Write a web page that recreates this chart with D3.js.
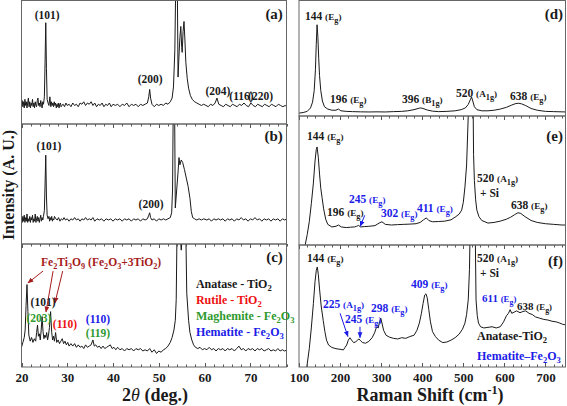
<!DOCTYPE html>
<html><head><meta charset="utf-8">
<script src="https://cdn.jsdelivr.net/npm/d3@7"></script>
<style>html,body{margin:0;padding:0;background:#fff}svg{display:block}svg text{font-family:"Liberation Serif","Times New Roman","DejaVu Serif",serif;font-weight:bold}</style>
</head><body>
<script>
// ---------------- DATA ----------------
const xrdTicks = [20, 30, 40, 50, 60, 70];
const ramanTicks = [100, 200, 300, 400, 500, 600, 700];

// XRD (a) [2theta, intensity]
const xrdA = [[20.0,15],[20.15,19],[20.3,14],[20.45,18],[20.6,13],[20.75,20],[20.9,15],[21.05,18],[21.2,13],[21.35,17],[21.5,21],[21.65,14],[21.8,18],[21.95,13],[22.1,17],[22.25,15],[22.4,20],[22.55,14],[22.7,17],[22.85,13],[23.0,18],[23.15,15],[23.3,14],[23.45,19],[23.6,21],[23.75,15],[23.9,17],[24.05,14],[24.2,19],[24.35,16],[24.5,13],[24.65,18],[24.8,16],[25.0,22],[25.15,50],[25.3,82],[25.45,45],[25.6,20],[25.8,17],[26.0,15],[26.2,22],[26.4,14],[26.55,18],[26.7,15],[26.85,17],[27.0,14],[27.15,18],[27.3,15],[27.45,17],[27.6,13],[27.75,16],[27.9,14],[28.05,17],[28.2,13],[28.35,16],[28.5,17],[28.65,14],[28.8,15],[29.1,16],[29.4,14],[29.7,17],[30.0,15],[30.4,16],[30.8,14],[31.2,17],[31.6,15],[32.0,16],[32.4,14],[32.8,17],[33.2,16],[33.6,18],[34.0,15],[34.4,17],[34.8,16],[35.2,18],[35.6,15],[36.0,17],[36.4,14],[36.8,16],[37.2,15],[37.6,17],[38.0,14],[38.4,16],[38.8,15],[39.2,17],[39.6,14],[40.0,16],[40.5,15],[41.0,16],[41.5,14],[42.0,16],[42.5,15],[43.0,17],[43.5,14],[44.0,16],[44.5,15],[45.0,16],[45.5,14],[46.0,16],[46.5,15],[47.0,16],[47.5,17],[47.8,22],[48.0,28],[48.2,21],[48.5,16],[49.0,14],[49.5,16],[50.0,15],[50.5,16],[51.0,15],[51.5,17],[52.0,16],[52.5,18],[52.9,21],[53.2,30],[53.5,60],[53.75,130],[54.0,130],[54.2,38],[54.4,55],[54.6,70],[54.8,79],[55.0,62],[55.1,58],[55.3,75],[55.5,83],[55.7,68],[55.9,50],[56.2,37],[56.5,29],[56.9,23],[57.3,20],[57.8,18],[58.3,17],[58.8,16],[59.3,15],[59.8,16],[60.3,15],[60.8,14],[61.3,16],[61.8,15],[62.3,17],[62.7,21],[63.1,16],[63.6,15],[64.1,14],[64.6,16],[65.1,15],[65.6,14],[66.1,16],[66.6,15],[67.1,14],[67.6,16],[68.1,15],[68.6,17],[69.1,15],[69.6,14],[70.1,17],[70.6,15],[71.1,14],[71.6,16],[72.1,15],[72.6,14],[73.1,16],[73.6,15],[74.1,14],[74.6,16],[75.1,15],[75.6,14],[76.1,16],[76.6,15],[77.1,14],[77.6,15],[78.0,14]];

// XRD (b)
const xrdB = [[20.0,22],[20.15,18],[20.3,23],[20.45,19],[20.6,24],[20.75,18],[20.9,22],[21.05,19],[21.2,25],[21.35,18],[21.5,21],[21.65,19],[21.8,23],[21.95,18],[22.1,22],[22.25,20],[22.4,24],[22.55,18],[22.7,21],[22.85,19],[23.0,25],[23.15,18],[23.3,21],[23.45,23],[23.6,19],[23.75,22],[23.9,18],[24.05,21],[24.2,24],[24.35,19],[24.5,22],[24.65,20],[24.8,23],[25.0,28],[25.15,50],[25.3,74],[25.45,40],[25.6,24],[25.8,21],[26.0,23],[26.15,19],[26.3,22],[26.45,20],[26.6,23],[26.75,19],[26.9,21],[27.05,20],[27.2,23],[27.5,21],[27.8,20],[28.1,22],[28.4,19],[28.7,21],[29.0,20],[29.3,22],[29.6,20],[30.0,21],[30.4,19],[30.8,21],[31.2,20],[31.6,22],[32.0,20],[32.4,21],[32.8,19],[33.2,21],[33.6,20],[34.0,22],[34.4,20],[34.8,21],[35.2,20],[35.6,22],[36.0,19],[36.5,21],[37.0,20],[37.5,21],[38.0,19],[38.5,21],[39.0,20],[39.5,21],[40.0,19],[40.5,21],[41.0,20],[41.5,21],[42.0,19],[42.5,21],[43.0,20],[43.5,21],[44.0,19],[44.5,21],[45.0,20],[45.5,21],[46.0,19],[46.5,21],[47.0,20],[47.5,21],[47.8,24],[48.0,26],[48.2,22],[48.5,20],[49.0,21],[49.5,19],[50.0,21],[50.5,20],[51.0,21],[51.5,20],[52.0,21],[52.5,22],[52.8,26],[53.0,45],[53.2,140],[53.4,140],[53.6,30],[53.9,45],[54.2,60],[54.4,72],[54.6,66],[54.9,70],[55.2,68],[55.6,62],[56.0,55],[56.4,48],[56.8,38],[57.1,27],[57.4,22],[57.8,21],[58.3,20],[58.8,21],[59.3,20],[59.8,21],[60.5,20],[61.0,21],[61.5,19],[62.0,21],[62.5,20],[63.0,21],[63.5,20],[64.0,21],[64.5,19],[65.0,21],[65.5,20],[66.0,21],[66.5,19],[67.0,21],[67.5,20],[68.0,22],[68.5,20],[69.0,21],[69.5,19],[70.0,21],[70.5,20],[71.0,22],[71.5,20],[72.0,21],[72.5,19],[73.0,21],[73.5,20],[74.0,21],[74.5,19],[75.0,21],[75.5,20],[76.0,21],[76.5,19],[77.0,21],[77.5,20],[78.0,21]];

// XRD (c)
const xrdC = [[20.0,16],[20.3,20],[20.6,24],[20.8,30],[21.0,50],[21.2,67],[21.4,45],[21.6,26],[21.9,21],[22.2,24],[22.5,20],[22.8,23],[23.1,21],[23.3,28],[23.5,34],[23.7,25],[23.9,27],[24.1,22],[24.3,30],[24.5,41],[24.7,29],[24.9,23],[25.1,26],[25.3,24],[25.5,28],[25.7,22],[25.9,26],[26.1,32],[26.35,45],[26.6,28],[26.8,22],[27.0,25],[27.2,21],[27.45,28],[27.7,20],[28.0,22],[28.3,19],[28.6,21],[28.9,23],[29.2,19],[29.5,21],[29.8,18],[30.1,20],[30.4,17],[30.8,19],[31.2,17],[31.6,19],[32.0,16],[32.4,18],[32.8,16],[33.2,17],[33.6,15],[34.0,18],[34.4,16],[34.8,17],[35.2,18],[35.6,22],[35.9,17],[36.2,18],[36.6,16],[37.0,17],[37.4,15],[37.8,17],[38.2,15],[38.6,16],[39.0,17],[39.4,18],[39.8,15],[40.2,16],[40.6,14],[41.0,16],[41.5,14],[42.0,15],[42.5,13],[43.0,15],[43.5,14],[44.0,15],[44.5,13],[45.0,15],[45.5,14],[46.0,15],[46.5,13],[47.0,14],[47.5,13],[48.0,15],[48.5,12],[49.0,14],[49.5,11],[50.0,13],[50.5,12],[51.0,14],[51.5,15],[52.0,17],[52.5,20],[52.9,24],[53.3,30],[53.6,38],[53.8,55],[54.0,120],[54.3,130],[54.6,110],[54.9,95],[55.2,110],[55.6,130],[55.9,110],[56.1,60],[56.5,38],[56.8,28],[57.2,22],[57.6,18],[58.0,16],[58.5,15],[59.0,16],[59.5,14],[60.0,15],[60.5,14],[61.0,16],[61.5,14],[62.0,15],[62.5,13],[63.0,15],[63.5,14],[64.0,15],[64.5,13],[65.0,15],[65.5,14],[66.0,15],[66.5,13],[67.0,15],[67.5,17],[68.0,14],[68.5,15],[69.0,13],[69.5,15],[70.0,14],[70.5,15],[71.0,13],[71.5,15],[72.0,14],[72.5,15],[73.0,13],[73.5,14],[74.0,15],[74.5,13],[75.0,14],[75.5,13],[76.0,15],[76.5,13],[77.0,14],[77.5,13],[78.0,14]];

// Raman (d) [shift, intensity]
const ramanD = [[100,2.5],[110,3],[120,4],[128,7],[133,12],[137,22],[140,40],[142,62],[144,79],[146,68],[148,50],[150,35],[153,22],[157,13],[162,8],[170,6],[180,5],[190,5],[196,6],[202,4.5],[215,4],[230,3.8],[250,3.6],[270,3.5],[290,3.6],[310,3.5],[330,3.8],[350,4],[365,4.5],[380,5.5],[390,6.5],[396,7],[402,6.5],[412,5.2],[425,4.2],[440,3.8],[460,4],[480,4.5],[495,5.5],[505,7],[512,10],[517,14],[520,16.5],[523,13],[527,8],[533,5.5],[545,4.5],[560,4.5],[575,5],[590,6],[605,7.5],[618,9.5],[628,10.8],[635,11],[642,10.5],[652,9],[665,6.5],[680,5],[700,4],[720,3.8],[750,3.5]];

// Raman (e)
const ramanE = [[115,0],[120,8],[125,18],[130,32],[135,48],[139,65],[142,74],[144,76],[147,68],[150,55],[153,44],[156,37],[160,28],[165,20],[170,16],[180,14],[190,14.5],[196,15.5],[203,14],[215,13.5],[225,13.8],[235,14],[240,14.5],[245,15.2],[250,14],[260,14.3],[270,14.5],[285,15],[295,17],[302,18],[310,16],[325,15.5],[340,15.8],[355,16],[370,16.2],[385,16.5],[395,17.5],[403,19.5],[410,21],[416,19],[425,18],[440,18.2],[455,18.5],[470,19.5],[482,22],[490,24],[496,27],[500,33],[504,45],[508,62],[512,100],[515,140],[523,140],[525,70],[527,50],[530,35],[533,27],[538,22],[545,19],[560,17],[575,17.5],[590,18.5],[605,20],[615,21.5],[625,23.5],[633,25],[640,24.5],[650,22],[665,19],[680,17.5],[700,16.5],[720,16],[740,15.5],[750,15.5]];

// Raman (f)
const ramanF = [[119,0],[125,15],[130,32],[135,52],[139,70],[142,79],[144.5,82],[147,76],[150,64],[154,50],[159,38],[163,29],[167,22],[172,18],[180,16],[190,15],[200,14.5],[208,14],[212,16],[216,18],[220,22],[224,24],[228,22],[233,20],[238,20.5],[242,22],[246,23],[250,21.5],[255,20],[262,19.5],[270,21],[278,24],[284,28],[289,33],[293,32],[296,37],[299,40],[302,36],[306,30],[312,26],[320,24.5],[330,23.5],[340,23],[350,24],[360,23.5],[370,25],[380,26],[387,30],[393,36],[398,44],[402,52],[406,59],[409,60],[412,57],[416,47],[420,37],[425,29],[432,25],[440,22],[450,20],[460,20.5],[470,22],[480,24],[490,27],[498,31],[504,36],[508,43],[512,55],[515,80],[518,140],[528,140],[531,55],[534,42],[537,36],[542,33],[550,32],[560,32.5],[570,33],[580,32],[590,33],[598,37],[605,42],[610,44],[614,47],[618,44],[624,45],[630,46],[638,44.5],[645,45.5],[652,46],[660,44],[668,43],[676,41],[686,40],[696,39],[706,38.5],[716,37.5],[726,37],[735,36],[742,35],[750,34.5]];

// ---------------- LAYOUT ----------------
const W = 567, H = 406;
const BLUE = "#1c1ce8", GREEN = "#2f9a2f", RED = "#ee1111", DRED = "#a51c1c", INK = "#1a1a1a";
const FONT = "Liberation Serif, Times New Roman, DejaVu Serif, serif";

const svg = d3.select("body").append("svg").attr("width", W).attr("height", H)
  .attr("font-family", FONT).attr("font-weight", "bold");

const xL = d3.scaleLinear().domain([20, 78]).range([21.5, 287]);
const xR = d3.scaleLinear().domain([100, 750]).range([299, 566]);

const panels = [
  {id:"a", x:xL, top:0.5, bot:124, data:xrdA, ticksTop:false, ticksBot:false, minor:2, major:10},
  {id:"b", x:xL, top:124, bot:244, data:xrdB, ticksTop:true, ticksBot:false, minor:2, major:10},
  {id:"c", x:xL, top:244, bot:367, data:xrdC, ticksTop:true, ticksBot:true, minor:2, major:10},
  {id:"d", x:xR, top:0.5, bot:116, data:ramanD, ticksTop:false, ticksBot:false, minor:20, major:100},
  {id:"e", x:xR, top:116, bot:245, data:ramanE, ticksTop:true, ticksBot:false, minor:20, major:100},
  {id:"f", x:xR, top:245, bot:367, data:ramanF, ticksTop:true, ticksBot:true, minor:20, major:100},
];
const P = {};
panels.forEach(p => {
  p.y = d3.scaleLinear().domain([0, 100]).range([p.bot, p.top]);
  P[p.id] = p;
  const [x0, x1] = p.x.range();
  svg.append("clipPath").attr("id", "clip" + p.id).append("rect")
    .attr("x", x0).attr("y", p.top).attr("width", x1 - x0).attr("height", p.bot - p.top);
  svg.append("path").datum(p.data)
    .attr("clip-path", `url(#clip${p.id})`)
    .attr("fill", "none").attr("stroke", INK).attr("stroke-width", 1)
    .attr("stroke-linejoin", "round")
    .attr("d", d3.line().x(d => p.x(d[0])).y(d => p.y(d[1])));
  const dom = p.x.domain();
  const ticks = d3.range(Math.ceil(dom[0] / p.minor) * p.minor, dom[1] + 0.001, p.minor);
  const g = svg.append("g").attr("stroke", "#555").attr("stroke-width", 1);
  ticks.forEach(t => {
    const len = (Math.abs(t % p.major) < 1e-6) ? 4 : 2.5;
    const xx = Math.round(p.x(t)) + 0.5;
    if (p.ticksTop) g.append("line").attr("x1", xx).attr("x2", xx).attr("y1", p.top).attr("y2", p.top + len);
    if (p.ticksBot) g.append("line").attr("x1", xx).attr("x2", xx).attr("y1", p.bot).attr("y2", p.bot - len);
  });
  svg.append("rect").attr("x", x0).attr("y", p.top).attr("width", x1 - x0 - 0.5).attr("height", p.bot - p.top)
    .attr("fill", "none").attr("stroke", "#666").attr("stroke-width", 1);
});

// bottom axes labels
const axL = d3.axisBottom(xL).tickValues(xrdTicks).tickSize(0).tickPadding(6);
const axR = d3.axisBottom(xR).tickValues(ramanTicks).tickSize(0).tickPadding(6);
[[axL, 367], [axR, 367]].forEach(([ax, y]) => {
  const g = svg.append("g").attr("transform", `translate(0,${y})`).call(ax)
    .attr("font-family", FONT).attr("font-weight", "bold").attr("font-size", 13);
  g.select(".domain").remove();
  g.selectAll("text").attr("fill", INK);
});

// ---------------- rich text helper ----------------
// markup: _{sub}  ^{sup}  ~{smaller}
function rich(x, y, str, size, color, anchor) {
  const t = svg.append("text").attr("x", x).attr("y", y).attr("fill", color)
    .attr("font-size", size).attr("text-anchor", anchor || "start");
  const re = /(_\{[^}]*\}|\^\{[^}]*\}|~\{[^}]*\}|[^_^~]+)/g;
  let m, cur = 0;
  while ((m = re.exec(str)) !== null) {
    const tok = m[0];
    let txt = tok, fs = size, shift = 0;
    if (tok.startsWith("_{")) { txt = tok.slice(2, -1); fs = size * 0.72; shift = size * 0.28; }
    else if (tok.startsWith("^{")) { txt = tok.slice(2, -1); fs = size * 0.68; shift = -size * 0.4; }
    else if (tok.startsWith("~{")) { txt = tok.slice(2, -1); fs = size * 0.8; shift = 0; }
    t.append("tspan").attr("font-size", fs).attr("dy", shift - cur).text(txt);
    cur = shift;
  }
  return t;
}
function lab(pid, xv, yv, str, size, color, anchor) {
  const p = P[pid];
  return rich(p.x(xv), p.y(yv), str, size, color, anchor);
}

// arrows
const defs = svg.append("defs");
[["ar", DRED], ["ab", BLUE]].forEach(([id, c]) => {
  defs.append("marker").attr("id", id).attr("viewBox", "0 0 10 10").attr("refX", 9).attr("refY", 5)
    .attr("markerWidth", 6).attr("markerHeight", 6).attr("orient", "auto")
    .append("path").attr("d", "M0,1 L10,5 L0,9 z").attr("fill", c);
});
function arrow(pid, x1, y1, x2, y2, color, mk) {
  const p = P[pid];
  svg.append("line").attr("x1", p.x(x1)).attr("y1", p.y(y1)).attr("x2", p.x(x2)).attr("y2", p.y(y2))
    .attr("stroke", color).attr("stroke-width", 1).attr("marker-end", `url(#${mk})`);
}

// ---------------- annotations ----------------
const S = 11.5;
// (a)
lab("a", 25.6, 85.4, "(101)", S, INK, "middle");
lab("a", 48.1, 33.3, "(200)", S, INK, "middle");
lab("a", 62.9, 23.6, "(204)", S, INK, "middle");
lab("a", 65.4, 19.5, "(116)", S, INK, "start");
lab("a", 69.5, 19.5, "(220)", S, INK, "start");
lab("a", 77.1, 85.4, "(a)", 15, INK, "end");
// (b)
lab("b", 26.0, 78.3, "(101)", S, INK, "middle");
lab("b", 48.3, 30, "(200)", S, INK, "middle");
lab("b", 77.1, 85.8, "(b)", 15, INK, "end");
// (c)
lab("c", 77.1, 85.4, "(c)", 15, INK, "end");
lab("c", 24.26, 82.1, "Fe_{2}Ti_{3}O_{9} (Fe_{2}O_{3}+3TiO_{2})", S, DRED, "start");
arrow("c", 24.7, 78, 21.4, 68.3, DRED, "ar");
arrow("c", 26.9, 78, 25.35, 44.7, DRED, "ar");
arrow("c", 29.0, 78, 27.3, 52.0, DRED, "ar");
lab("c", 24.7, 49.6, "(101)", S, INK, "middle");
lab("c", 23.8, 36.6, "(203)", S, GREEN, "middle");
lab("c", 29.5, 31.7, "(110)", S, RED, "middle");
lab("c", 36.7, 35.8, "(110)", S, BLUE, "middle");
lab("c", 36.7, 24.4, "(119)", S, GREEN, "middle");
lab("c", 58.1, 64.2, "Anatase - TiO_{2}", 12, INK, "start");
lab("c", 58.1, 51.2, "Rutile - TiO_{2}", 12, RED, "start");
lab("c", 58.1, 38.2, "Maghemite - Fe_{2}O_{3}", 12, GREEN, "start");
lab("c", 58.1, 25.2, "Hematite - Fe_{2}O_{3}", 12, BLUE, "start");

// (d)
const R = 11.5;
lab("d", 114.6, 83.5, "144 ~{(E}_{g}~{)}", R, INK);
lab("d", 175.5, 11.3, "196 ~{(E}_{g}~{)}", R, INK);
lab("d", 350.7, 11.3, "396 ~{(B}_{1g}~{)}", R, INK);
lab("d", 482.2, 16.5, "520 ~{(A}_{1g}~{)}", R, INK);
lab("d", 613.7, 13.9, "638 ~{(E}_{g}~{)}", R, INK);
lab("d", 742.7, 84.3, "(d)", 15, INK, "end");
// (e)
lab("e", 119.5, 81.4, "144 ~{(E}_{g}~{)}", R, INK);
lab("e", 742.7, 80.6, "(e)", 15, INK, "end");
lab("e", 533.3, 48.8, "520 ~{(A}_{1g}~{)}", R, INK);
lab("e", 540.6, 37.2, "+ Si", R, INK);
lab("e", 616.1, 27.9, "638 ~{(E}_{g}~{)}", R, INK);
lab("e", 168.2, 22.5, "196 ~{(E}_{g}~{)}", R, INK);
lab("e", 221.7, 32.6, "245 ~{(E}_{g}~{)}", R, BLUE);
lab("e", 299.6, 21.7, "302 ~{(E}_{g}~{)}", R, BLUE);
lab("e", 387.3, 25.6, "411 ~{(E}_{g}~{)}", R, BLUE);
arrow("e", 260, 23, 249, 14.5, BLUE, "ab");
// (f)
lab("f", 119.5, 86.1, "144 ~{(E}_{g}~{)}", R, INK);
lab("f", 533.3, 86.1, "520 ~{(A}_{1g}~{)}", R, INK);
lab("f", 540.6, 73.8, "+ Si", R, INK);
lab("f", 742.7, 82.8, "(f)", 15, INK, "end");
lab("f", 158.4, 48.4, "225 ~{(A}_{1g}~{)}", R, BLUE);
lab("f", 212, 36, "245 ~{(E}_{g}~{)}", R, BLUE);
lab("f", 275.3, 45.1, "298 ~{(E}_{g}~{)}", R, BLUE);
lab("f", 372.7, 64.8, "409 ~{(E}_{g}~{)}", R, BLUE);
lab("f", 545.5, 53.3, "611 ~{(E}_{g}~{)}", 11, BLUE);
lab("f", 631, 46.5, "638 ~{(E}_{g}~{)}", 11, INK);
lab("f", 533.3, 22.1, "Anatase-TiO_{2}", 12, INK);
lab("f", 533.3, 5.7, "Hematite\u2013Fe_{2}O_{3}", 12, BLUE);
arrow("f", 200, 44, 219, 25, BLUE, "ab");
arrow("f", 248.5, 33, 248.5, 24, BLUE, "ab");

// ---------------- axis titles ----------------
svg.append("text").attr("transform", "translate(14,185) rotate(-90)").attr("text-anchor", "middle")
  .attr("font-size", 16).attr("fill", INK).text("Intensity (A. U.)");
const t1 = svg.append("text").attr("x", 155).attr("y", 401).attr("text-anchor", "middle")
  .attr("font-size", 18).attr("fill", INK);
t1.append("tspan").text("2");
t1.append("tspan").attr("font-style", "italic").attr("font-weight", "normal").text("\u03B8");
t1.append("tspan").text(" (deg.)");
rich(430, 401, "Raman Shift (cm^{-1})", 18, INK, "middle");
</script>
</body></html>
